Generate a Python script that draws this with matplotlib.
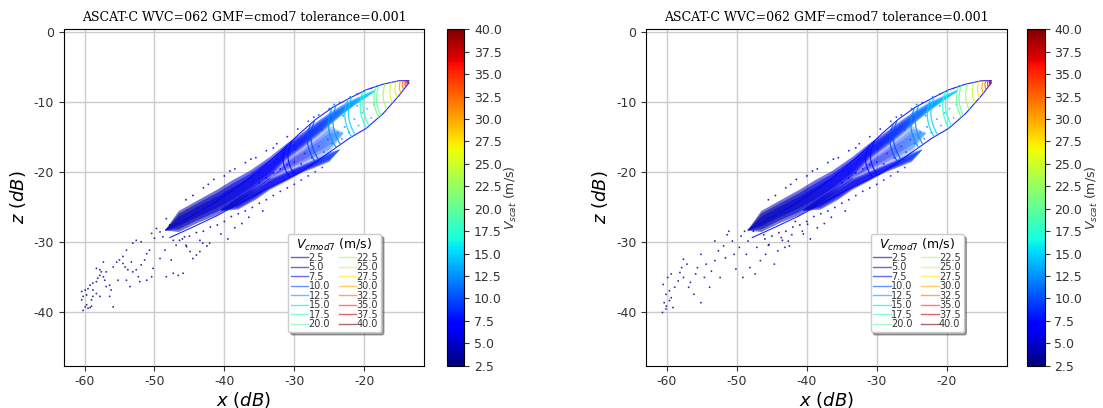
import numpy as np
import matplotlib
matplotlib.use("Agg")
import matplotlib.pyplot as plt
from matplotlib.colors import Normalize
from matplotlib.cm import ScalarMappable
from matplotlib.lines import Line2D
from matplotlib.patches import Polygon, PathPatch
from matplotlib.path import Path

plt.rcParams['axes.unicode_minus'] = False

TITLE = "ASCAT-C WVC=062 GMF=cmod7 tolerance=0.001"

# legend / colorbar speeds (m/s)
SPEEDS = [2.5, 5.0, 7.5, 10.0, 12.5, 15.0, 17.5, 20.0,
          22.5, 25.0, 27.5, 30.0, 32.5, 35.0, 37.5, 40.0]
CBAR_TICKS = SPEEDS
CBAR_LABELS = ["2.5", "5.0", "7.5", "10.0", "12.5", "15.0", "17.5", "20.0",
               "22.5", "25.0", "27.5", "30.0", "32.5", "35.0", "37.5", "40.0"]
X_TICKS = [-60, -50, -40, -30, -20]
Z_TICKS = [-40, -30, -20, -10, 0]

# outer lines of the cone (x, z in dB)
UPPER_X = [-48.4, -45.0, -41.5, -38.0, -35.0, -32.0, -29.2, -26.9, -24.5, -22.1, -19.7, -17.3, -15.0, -13.6]
UPPER_Z = [-28.3, -26.5, -24.5, -22.1, -19.8, -17.2, -14.5, -12.5, -10.8, -9.5, -8.3, -7.5, -7.0, -7.0]
LOWER_X = [-47.8, -44.5, -41.1, -38.0, -35.0, -32.0, -29.0, -26.5, -24.5, -22.1, -19.7, -17.3, -15.0, -13.6]
LOWER_Z = [-29.4, -27.9, -26.3, -24.6, -23.0, -21.5, -20.0, -18.3, -16.9, -15.2, -13.8, -11.7, -9.1, -7.3]

# speed arcs: speed, top point, bottom point, bulge of control point
ARC_V = [7.5, 7.5, 10.0, 10.0, 12.5, 12.5, 15.0, 15.0, 17.5, 17.5,
         20.0, 20.0, 22.5, 25.0, 27.5, 30.0, 32.5, 35.0, 37.5, 40.0]
ARC_XT = [-31.0, -30.3, -27.6, -27.1, -24.6, -24.0, -22.3, -21.8, -20.2, -19.8,
          -18.3, -17.9, -17.0, -16.1, -15.4, -14.8, -14.4, -14.1, -13.85, -13.7]
ARC_ZT = [-16.2, -15.6, -13.1, -12.7, -10.9, -10.5, -9.6, -9.35, -8.55, -8.35,
          -7.85, -7.7, -7.45, -7.25, -7.1, -7.0, -7.0, -7.0, -7.0, -7.0]
ARC_XB = [-30.6, -29.9, -27.0, -26.5, -24.0, -23.4, -21.8, -21.3, -19.7, -19.3,
          -17.9, -17.6, -16.8, -16.0, -15.3, -14.75, -14.35, -14.05, -13.8, -13.65]
ARC_ZB = [-20.8, -20.45, -18.6, -18.3, -16.55, -16.1, -15.0, -14.7, -13.8, -13.45,
          -12.25, -12.0, -11.1, -10.2, -9.45, -8.8, -8.3, -7.9, -7.55, -7.35]
ARC_BULGE = [-1.6, -1.6, -1.6, -1.6, -1.6, -1.5, -1.4, -1.4, -1.2, -1.2,
             -1.0, -1.0, -0.8, -0.6, -0.5, -0.4, -0.3, -0.2, -0.15, -0.1]

# dense ridges of retrieved points: x, top z, bottom z, speed along ridge
UBAND_X = [-48.5, -46.5, -44.0, -41.1, -38.8, -36.4, -33.5, -31.1, -28.8, -26.4, -24.5, -22.5, -21.0, -18.5]
UBAND_TOP = [-28.4, -25.6, -24.2, -22.6, -21.2, -19.9, -17.9, -16.0, -14.4, -12.6, -11.3, -10.1, -9.4, -8.3]
UBAND_BOT = [-28.4, -28.6, -27.4, -26.2, -25.0, -23.3, -21.0, -18.3, -16.6, -14.7, -13.0, -11.4, -10.3, -8.6]
UBAND_V = [4.0, 4.0, 4.5, 5.0, 5.5, 6.0, 6.5, 7.5, 8.0, 9.0, 10.5, 12.0, 13.5, 15.0]

LBAND_X = [-40.5, -38.0, -35.5, -33.5, -31.0, -28.8, -27.0, -25.0, -23.5]
LBAND_TOP = [-25.4, -23.6, -22.2, -20.9, -19.9, -19.0, -18.2, -17.3, -16.8]
LBAND_BOT = [-25.6, -25.4, -24.0, -22.6, -21.3, -20.1, -19.4, -18.6, -16.9]
LBAND_V = [5.0, 5.0, 5.5, 6.0, 6.5, 7.5, 8.0, 9.0, 10.0]

GAP_X = [-35.5, -33.5, -31.1, -28.8, -26.4, -25.0, -23.0]
GAP_TOP = [-22.4, -21.0, -18.3, -16.6, -14.7, -13.4, -14.4]
GAP_BOT = [-22.4, -20.9, -19.9, -19.0, -17.9, -17.3, -14.6]
GAP_V = [6.0, 6.5, 7.5, 8.0, 9.5, 10.5, 12.0]

# scattered points around the ridges (same in both panels)
HALO_X = [-44.5, -43.0, -41.5, -40.0, -38.5, -37.0, -35.5, -34.0, -32.5, -31.0, -29.5, -28.0, -26.5, -25.0,
          -23.5, -22.0, -21.0, -20.0, -19.0, -18.2, -42.3, -36.2, -33.0, -27.2, -24.3, -45.5, -39.2,
          -46.0, -45.0, -44.0, -43.0, -42.0, -41.0, -40.0, -39.0, -38.0, -37.0, -36.0, -35.0, -34.0,
          -33.0, -32.0, -31.0, -30.0, -29.0, -28.0, -27.0, -26.0, -37.5, -40.5, -43.5, -45.5, -38.5,
          -36.5, -34.5, -42.5, -39.5,
          -35.0, -34.0, -33.0, -32.0, -31.0, -30.0, -29.0, -28.5, -27.5, -26.5, -25.8, -25.2, -24.6,
          -23.8, -23.2, -22.8, -22.2, -21.4, -20.8, -20.3, -19.6, -19.0, -18.6, -26.0, -23.0, -21.0,
          -32.5, -29.8, -27.8]
HALO_Z = [-23.4, -22.3, -21.1, -20.6, -19.6, -18.7, -18.0, -17.0, -16.0, -15.0, -13.9, -12.8, -11.9, -11.0,
          -10.1, -9.3, -8.9, -8.5, -8.1, -7.8, -21.8, -18.2, -16.6, -12.2, -10.4, -24.0, -19.9,
          -29.6, -29.2, -28.7, -28.5, -27.9, -27.6, -27.1, -26.4, -26.0, -25.6, -25.1, -24.5, -24.0,
          -23.4, -22.8, -22.3, -21.8, -21.2, -20.6, -20.0, -19.4, -27.4, -28.9, -29.8, -30.5, -28.0,
          -26.5, -25.6, -30.6, -29.6,
          -21.6, -20.9, -20.2, -19.6, -19.0, -18.6, -18.9, -17.4, -18.0, -16.4, -17.2, -15.4, -16.0,
          -14.4, -15.3, -13.6, -14.4, -12.5, -13.4, -11.6, -11.0, -12.3, -10.4, -14.0, -12.0, -10.6,
          -18.2, -16.8, -15.4]
HALO_V = [4.0, 4.5, 4.5, 5.0, 5.5, 6.0, 6.5, 7.0, 7.5, 8.0, 8.5, 9.0, 10.0, 11.0,
          12.0, 13.0, 13.5, 14.0, 14.5, 15.0, 4.5, 6.0, 7.0, 9.5, 11.5, 4.0, 5.0,
          3.5, 3.5, 4.0, 4.0, 4.0, 4.5, 4.5, 5.0, 5.0, 5.5, 5.5, 6.0, 6.0,
          6.5, 7.0, 7.0, 7.5, 8.0, 8.0, 8.5, 9.0, 5.0, 4.5, 4.0, 3.5, 5.0,
          5.5, 6.0, 4.0, 4.5,
          6.5, 7.0, 7.0, 7.5, 8.0, 8.5, 8.5, 9.0, 9.0, 10.0, 10.0, 10.5, 11.0,
          11.5, 12.0, 12.5, 13.0, 13.5, 14.0, 14.5, 15.0, 15.0, 15.5, 10.0, 12.0, 13.5,
          7.5, 8.5, 9.5]

# sparse low-speed tail, left panel
TAIL_L_X = [-60.2, -59.9, -59.7, -59.5, -59.2, -59.0, -60.4, -60.2, -59.7, -60.4, -59.9, -59.5, -58.8, -59.0,
            -58.3, -59.2, -58.8, -58.3, -58.1, -57.8, -57.6, -58.3, -57.3, -57.8, -57.1, -56.9, -56.4, -56.2,
            -55.9, -55.2, -55.4, -55.0, -54.5, -54.2, -53.8, -53.3, -53.1, -52.6, -52.3, -51.9, -52.1, -51.1,
            -51.4, -50.7, -50.4, -50.0, -49.7, -49.2, -48.8, -48.5, -48.3, -47.8, -47.3, -46.9, -46.4, -45.7,
            -45.4, -44.9, -44.5, -44.0, -43.5, -43.1, -42.1, -47.6, -47.3, -46.6, -45.9, -50.2, -50.4, -48.3,
            -49.2, -52.6, -51.9, -53.1, -54.0, -54.5, -55.9, -56.9, -57.3, -58.8, -57.8, -56.4, -54.0, -53.5,
            -51.1]
TAIL_L_Z = [-39.8, -39.3, -39.0, -39.5, -39.4, -39.2, -38.3, -37.8, -37.6, -37.1, -36.9, -36.7, -37.8, -38.3,
            -37.4, -36.2, -35.9, -35.7, -35.2, -34.8, -34.3, -33.8, -32.9, -34.0, -35.5, -36.4, -36.2, -36.9,
            -39.3, -35.5, -32.9, -32.6, -32.1, -33.6, -34.0, -32.9, -34.3, -34.0, -35.0, -33.3, -35.7, -31.7,
            -32.6, -31.2, -28.8, -29.5, -28.1, -28.6, -29.3, -31.2, -26.7, -27.6, -29.8, -30.5, -29.8, -29.3,
            -30.7, -31.4, -32.4, -31.9, -31.4, -30.2, -30.2, -32.6, -34.5, -34.8, -34.5, -33.8, -35.0, -35.0,
            -32.4, -29.8, -30.0, -30.2, -31.2, -33.1, -33.6, -34.3, -35.0, -36.9, -37.8, -37.8, -35.5, -36.4,
            -35.5]

# sparse low-speed tail, right panel
TAIL_R_X = [-60.65, -60.15, -60.1, -60.4, -59.65, -59.4, -59.15, -60.15, -59.65, -58.9, -60.55, -59.9, -59.4,
            -58.4, -58.15, -57.65, -57.9, -57.65, -57.15, -56.9, -56.65, -56.15, -55.9, -55.65, -55.15, -55.15,
            -54.65, -54.4, -53.9, -53.65, -53.15, -53.15, -52.65, -52.4, -51.9, -51.65, -51.4, -51.15, -50.65,
            -50.4, -50.15, -49.65, -49.4, -49.15, -48.9, -48.65, -48.4, -48.15, -47.65, -47.4, -47.15, -46.65,
            -46.15, -45.9, -45.4, -44.65, -44.15, -43.65, -43.15, -42.65, -42.15, -41.65, -40.65, -39.9]
TAIL_R_Z = [-40.1, -39.6, -39.2, -38.7, -38.4, -38.0, -39.4, -37.5, -37.0, -36.5, -36.1, -35.1, -34.6,
            -35.6, -34.4, -35.1, -33.7, -32.5, -33.2, -36.5, -35.8, -37.5, -34.6, -33.7, -31.8, -38.7,
            -35.1, -33.2, -36.5, -34.2, -32.7, -29.9, -31.3, -35.1, -30.6, -32.3, -29.0, -28.5, -29.9,
            -31.8, -33.9, -30.8, -29.2, -35.1, -28.5, -31.8, -29.9, -33.7, -28.5, -34.6, -30.8, -32.7,
            -29.0, -31.8, -30.4, -33.2, -31.3, -29.4, -30.8, -29.9, -29.0, -27.1, -28.5, -27.5]
TAIL_V = 3.0

XLIM = (-63.0, -11.4)
ZLIM = (-47.7, 0.34)

CMAP = plt.get_cmap('jet')
NORM = Normalize(vmin=2.5, vmax=40.0)


def draw_band(ax, xs, top, bot, vs, alpha, layers=(1.0, 0.75, 0.45)):
    # stacked layers so the ridge gets soft edges and a dense core
    xs = np.asarray(xs)
    mid = (np.asarray(top) + np.asarray(bot)) / 2
    half = (np.asarray(top) - np.asarray(bot)) / 2
    xg = np.linspace(xs.min(), xs.max(), 300)
    vg = np.interp(xg, xs, vs)
    for f in layers:
        t = mid + half * f
        b = mid - half * f
        verts = list(zip(xs, t)) + list(zip(xs[::-1], b[::-1]))
        poly = Polygon(verts, closed=True, facecolor='none', edgecolor='none')
        ax.add_patch(poly)
        im = ax.imshow(vg[np.newaxis, :], extent=(xs.min(), xs.max(), b.min(), t.max()),
                       cmap=CMAP, norm=NORM, alpha=alpha, aspect='auto', origin='lower',
                       interpolation='bilinear', zorder=2)
        im.set_clip_path(poly)


def draw_panel(ax, cax, tail_x, tail_z):
    ax.grid(True, color='0.8', lw=1.0, zorder=0)
    ax.set_axisbelow(True)

    draw_band(ax, GAP_X, GAP_TOP, GAP_BOT, GAP_V, 0.28)
    draw_band(ax, UBAND_X, UBAND_TOP, UBAND_BOT, UBAND_V, 0.55)
    draw_band(ax, LBAND_X, LBAND_TOP, LBAND_BOT, LBAND_V, 0.5)

    ax.scatter(tail_x, tail_z, c=[TAIL_V] * len(tail_x), cmap=CMAP, norm=NORM,
               s=1.8, linewidths=0, alpha=0.8, zorder=3)
    ax.scatter(HALO_X, HALO_Z, c=HALO_V, cmap=CMAP, norm=NORM,
               s=1.8, linewidths=0, alpha=0.85, zorder=3)

    ax.plot(UPPER_X, UPPER_Z, color='blue', lw=0.8, alpha=0.85, zorder=4)
    ax.plot(LOWER_X, LOWER_Z, color='blue', lw=0.8, alpha=0.85, zorder=4)

    for v, xt, zt, xb, zb, b in zip(ARC_V, ARC_XT, ARC_ZT, ARC_XB, ARC_ZB, ARC_BULGE):
        cx = (xt + xb) / 2 + b
        cz = (zt + zb) / 2
        path = Path([(xt, zt), (cx, cz), (xb, zb)], [Path.MOVETO, Path.CURVE3, Path.CURVE3])
        ax.add_patch(PathPatch(path, fill=False, edgecolor=CMAP(NORM(v)), lw=0.9, alpha=0.85, zorder=4))

    ax.set_xlim(*XLIM)
    ax.set_ylim(*ZLIM)
    ax.set_xticks(X_TICKS)
    ax.set_yticks(Z_TICKS)
    ax.tick_params(labelsize=9, colors='#333333')
    ax.set_xlabel(r'$x\ (dB)$', fontsize=13, labelpad=1)
    ax.set_ylabel(r'$z\ (dB)$', fontsize=13)
    ax.set_title(TITLE, fontsize=9, family='DejaVu Serif', pad=6)

    handles = [Line2D([0], [0], color=CMAP(NORM(v)), lw=1, alpha=0.6) for v in SPEEDS]
    leg = ax.legend(handles, CBAR_LABELS, ncol=2, fontsize=7, title=r'$V_{cmod7}$ (m/s)',
                    title_fontsize=9, loc='lower right', bbox_to_anchor=(0.88, 0.10),
                    handlelength=1.8, handletextpad=0.0, labelspacing=-0.05, columnspacing=0.9,
                    borderpad=0.3, shadow=True, framealpha=1, borderaxespad=0)
    for t in leg.get_texts():
        t.set_color('#333333')
    leg.set_zorder(6)

    cb = plt.colorbar(ScalarMappable(norm=NORM, cmap=CMAP), cax=cax, ticks=CBAR_TICKS)
    cb.ax.set_yticklabels(CBAR_LABELS)
    cb.ax.tick_params(labelsize=9, colors='#333333')
    cb.set_label(r'$V_{scat}$ (m/s)', fontsize=9, color='#333333', labelpad=1)


fig = plt.figure(figsize=(11.03, 4.08), dpi=100)
ax1 = fig.add_axes([0.0576, 0.1037, 0.3271, 0.8245])
cax1 = fig.add_axes([0.4049, 0.1037, 0.0161, 0.8245])
ax2 = fig.add_axes([0.5857, 0.1037, 0.3271, 0.8245])
cax2 = fig.add_axes([0.9310, 0.1037, 0.0161, 0.8245])

draw_panel(ax1, cax1, TAIL_L_X, TAIL_L_Z)
draw_panel(ax2, cax2, TAIL_R_X, TAIL_R_Z)

fig.savefig('out.png', dpi=100)
